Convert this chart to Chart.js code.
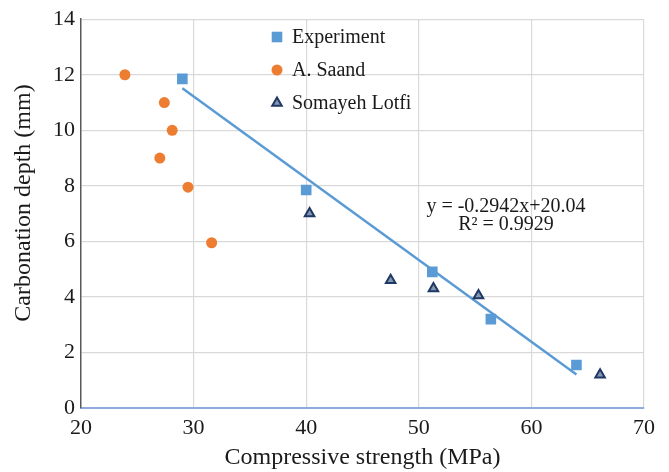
<!DOCTYPE html>
<html>
<head>
<meta charset="utf-8">
<script src="https://cdn.jsdelivr.net/npm/chart.js@4.4.1/dist/chart.umd.min.js"></script>
<style>
  html, body { margin: 0; padding: 0; background: #fff; }
  #wrap { width: 669px; height: 472px; }
</style>
</head>
<body>
<div id="wrap"><canvas id="cvs_carbonatacao" width="669" height="472"></canvas></div>
<script>
// dados
const expX = [29.0, 40.0, 51.2, 56.4, 64.0];
const expY = [11.85, 7.85, 4.9, 3.2, 1.55];

const saandX = [23.9, 27.4, 28.1, 27.0, 29.5, 31.6];
const saandY = [12.0, 11.0, 10.0, 9.0, 7.95, 5.95];

const lotfiX = [40.3, 47.5, 51.3, 55.3, 66.1];
const lotfiY = [7.0, 4.6, 4.3, 4.05, 1.2];

// linha de tendência (faixa dos dados do experimento)
const trendX = [29, 64];
const trendY = [11.51, 1.21];

const seriesNames = ["Experiment", "A. Saand", "Somayeh Lotfi"];
const equationLines = ["y = -0.2942x+20.04", "R² = 0.9929"];
const yTitle = "Carbonation depth (mm)";

const fonteSerif = "'Liberation Serif', 'Times New Roman', serif";

function pares(xs, ys) {
    var out = [];
    for (var i = 0; i < xs.length; i++) out.push({ x: xs[i], y: ys[i] });
    return out;
}

// --- legenda dentro da área do gráfico ---
const legendaInterna = {
    id: "legendaInterna",
    afterDraw(chart) {
        const { ctx } = chart;
        const xMarker = 277, xText = 292, y0 = 37, passo = 33;
        ctx.save();
        ctx.font = `20px ${fonteSerif}`;
        ctx.textBaseline = "middle";
        for (var i = 0; i < 3; i++) {
            const ds = chart.data.datasets[i];
            const y = y0 + i * passo;
            ctx.fillStyle = ds.backgroundColor;
            ctx.strokeStyle = ds.borderColor;
            ctx.lineWidth = ds.pointBorderWidth || 0;
            Chart.helpers.drawPoint(ctx, {
                pointStyle: ds.pointStyle,
                radius: ds.pointRadius,
                borderWidth: ds.pointBorderWidth || 0,
                rotation: 0
            }, xMarker, y);
            ctx.fillStyle = "#1a1a1a";
            ctx.fillText(ds.label, xText, y + 1);
        }
        ctx.restore();
    }
};

// --- equação da tendência e título do eixo y ---
const textos = {
    id: "textos",
    afterDraw(chart) {
        const { ctx } = chart;
        ctx.save();
        ctx.font = `20px ${fonteSerif}`;
        ctx.textAlign = "center";
        ctx.textBaseline = "middle";
        ctx.fillStyle = "#1a1a1a";
        ctx.fillText(equationLines[0], 506, 207);
        ctx.fillText(equationLines[1], 506, 225);

        ctx.translate(24, 203);
        ctx.rotate(-Math.PI / 2);
        ctx.font = `24px ${fonteSerif}`;
        ctx.fillText(yTitle, 0, 0);
        ctx.restore();
    }
};

new Chart(document.getElementById("cvs_carbonatacao"), {
    type: "scatter",
    data: {
        datasets: [
            {
                label: seriesNames[0],
                data: pares(expX, expY),
                pointStyle: "rect",
                pointRadius: 7.5,
                pointHoverRadius: 7.5,
                pointBorderWidth: 0,
                backgroundColor: "#5b9bd5",
                borderColor: "#5b9bd5",
                order: 1
            },
            {
                label: seriesNames[1],
                data: pares(saandX, saandY),
                pointStyle: "circle",
                pointRadius: 5.5,
                pointBorderWidth: 0,
                backgroundColor: "#ed7d31",
                borderColor: "#ed7d31",
                order: 1
            },
            {
                label: seriesNames[2],
                data: pares(lotfiX, lotfiY),
                pointStyle: "triangle",
                pointRadius: 5.5,
                pointBorderWidth: 2,
                backgroundColor: "#8497b0",
                borderColor: "#203864",
                order: 1
            },
            {
                type: "line",
                label: "trend",
                data: pares(trendX, trendY),
                borderColor: "#5b9bd5",
                borderWidth: 2.5,
                pointRadius: 0,
                fill: false,
                order: 2
            }
        ]
    },
    options: {
        responsive: false,
        animation: false,
        layout: { padding: { left: 0, right: 25, top: 16, bottom: 0 } },
        plugins: {
            legend: { display: false },
            tooltip: { enabled: false }
        },
        scales: {
            x: {
                type: "linear",
                min: 20,
                max: 70,
                ticks: {
                    stepSize: 10,
                    padding: 7,
                    color: "#1a1a1a",
                    font: { family: fonteSerif, size: 22 }
                },
                grid: {
                    drawTicks: false,
                    color: (c) => (c.tick && c.tick.value === 20 ? "rgba(0,0,0,0)" : "#d9d9d9"),
                    lineWidth: 1.2
                },
                border: { color: "#8faadc", width: 2 },
                title: {
                    display: true,
                    text: "Compressive strength (MPa)",
                    color: "#1a1a1a",
                    font: { family: fonteSerif, size: 24 },
                    padding: { top: 0, bottom: 0 }
                },
                afterFit: (scale) => { scale.height = 64; }
            },
            y: {
                type: "linear",
                min: 0,
                max: 14,
                ticks: {
                    stepSize: 2,
                    padding: 6,
                    color: "#1a1a1a",
                    font: { family: fonteSerif, size: 22 }
                },
                grid: {
                    drawTicks: false,
                    color: (c) => (c.tick && c.tick.value === 0 ? "rgba(0,0,0,0)" : "#d9d9d9"),
                    lineWidth: 1.2
                },
                border: { color: "#595959", width: 1.5 },
                afterFit: (scale) => { scale.width = 81; }
            }
        }
    },
    plugins: [legendaInterna, textos]
});
</script>
</body>
</html>
